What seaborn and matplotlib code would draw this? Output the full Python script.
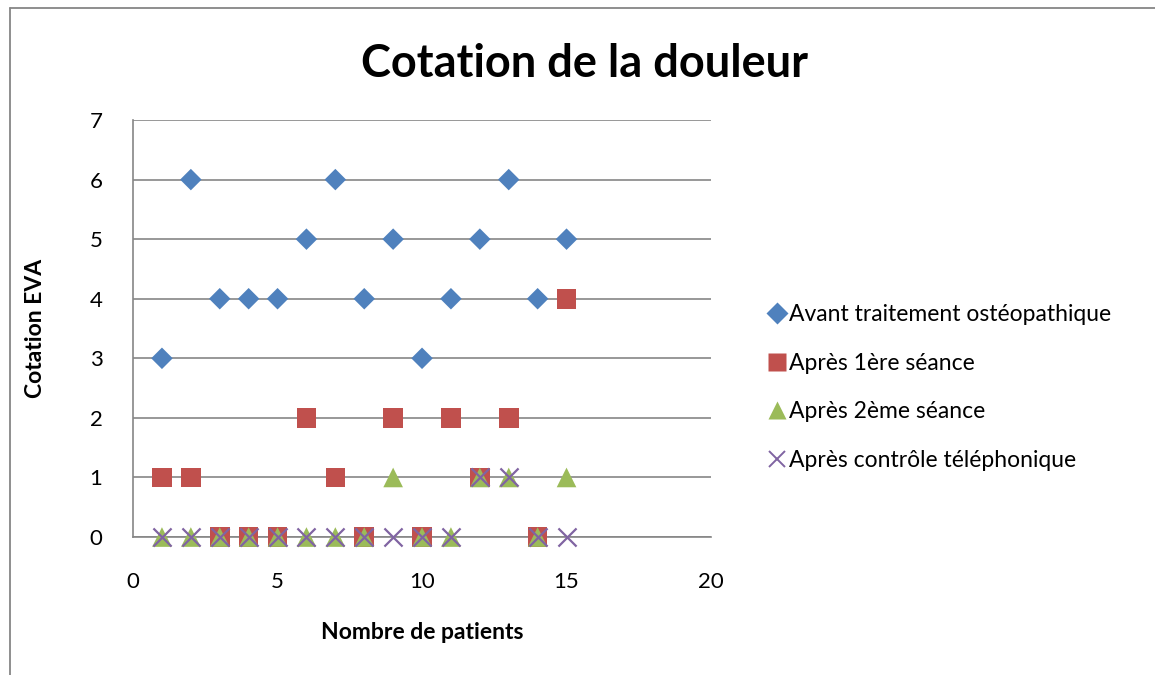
import matplotlib
matplotlib.use('Agg')
import matplotlib.pyplot as plt
import seaborn as sns
import pandas as pd
from matplotlib.lines import Line2D

# patient numbers and EVA scores
patients = list(range(1, 16))
avant = [3, 6, 4, 4, 4, 5, 6, 4, 5, 3, 4, 5, 6, 4, 5]
apres_1 = [1, 1, 0, 0, 0, 2, 1, 0, 2, 0, 2, 1, 2, 0, 4]
apres_2 = [0, 0, 0, 0, 0, 0, 0, 0, 1, 0, 0, 1, 1, 0, 1]
controle = [0, 0, 0, 0, 0, 0, 0, 0, 0, 0, 0, 1, 1, 0, 0]

series_names = ['Avant traitement ostéopathique', 'Après 1ère séance',
                'Après 2ème séance', 'Après contrôle téléphonique']
series_values = [avant, apres_1, apres_2, controle]
colors = ['#4F81BD', '#C0504D', '#9BBB59', '#8064A2']
markers = ['D', 's', '^', 'x']
sizes = [120, 200, 200, 170]

sns.set_style('white')
plt.rcParams['font.family'] = ['Lato', 'DejaVu Sans']
plt.rcParams['text.color'] = 'black'
plt.rcParams['axes.labelcolor'] = 'black'
plt.rcParams['xtick.color'] = 'black'
plt.rcParams['ytick.color'] = 'black'

fig = plt.figure(figsize=(11.55, 6.75), dpi=100)
ax = fig.add_axes([0.1152, 0.2044, 0.5004, 0.6178])

for name, vals, col, mk, sz in zip(series_names, series_values, colors, markers, sizes):
    df = pd.DataFrame({'patient': patients, 'eva': vals})
    if mk == 'x':
        sns.scatterplot(data=df, x='patient', y='eva', marker=mk, s=sz, color=col,
                        linewidth=1.6, ax=ax, zorder=3, clip_on=False)
    else:
        sns.scatterplot(data=df, x='patient', y='eva', marker=mk, s=sz, color=col,
                        edgecolor='none', ax=ax, zorder=3, clip_on=False)

ax.set_xlim(0, 20)
ax.set_ylim(0, 7)
ax.set_xticks([0, 5, 10, 15, 20])
ax.set_yticks(range(0, 8))
ax.tick_params(axis='x', length=0, labelsize=16, pad=25, labelcolor='black')
ax.tick_params(axis='y', length=0, labelsize=16, pad=22, labelcolor='black')
ax.yaxis.grid(True, color='#868686', linewidth=1.2)
ax.set_axisbelow(True)
for side in ['top', 'right']:
    ax.spines[side].set_visible(False)
for side in ['left', 'bottom']:
    ax.spines[side].set_color('#868686')
    ax.spines[side].set_linewidth(1.2)

ax.set_xlabel('Nombre de patients', fontsize=16.5, fontweight='bold', labelpad=22)
ax.set_ylabel('Cotation EVA', fontsize=16.5, fontweight='bold', labelpad=31)
fig.text(0.506, 0.905, 'Cotation de la douleur', fontsize=32.5, fontweight='bold',
         ha='center', va='center', color='black')

handles = []
for name, col, mk in zip(series_names, colors, markers):
    if mk == 'x':
        h = Line2D([], [], linestyle='none', marker=mk, color=col, markersize=12,
                   markeredgewidth=1.4, label=name)
    else:
        h = Line2D([], [], linestyle='none', marker=mk, color=col, markersize=11 if mk == 'D' else 13,
                   markeredgecolor='none', label=name)
    handles.append(h)
leg = fig.legend(handles=handles, loc='center left', bbox_to_anchor=(0.657, 0.426),
                 frameon=False, fontsize=16.5, handlelength=0.8, handletextpad=0.1,
                 labelspacing=1.2, borderaxespad=0)
for t in leg.get_texts():
    t.set_color('black')

# chart area border
fig.add_artist(Line2D([0.0087, 0.0087], [0, 0.988], transform=fig.transFigure,
                      color='#868686', linewidth=1.3))
fig.add_artist(Line2D([0.0087, 1], [0.988, 0.988], transform=fig.transFigure,
                      color='#868686', linewidth=1.3))

fig.savefig('out.png', dpi=100)
plt.close(fig)
